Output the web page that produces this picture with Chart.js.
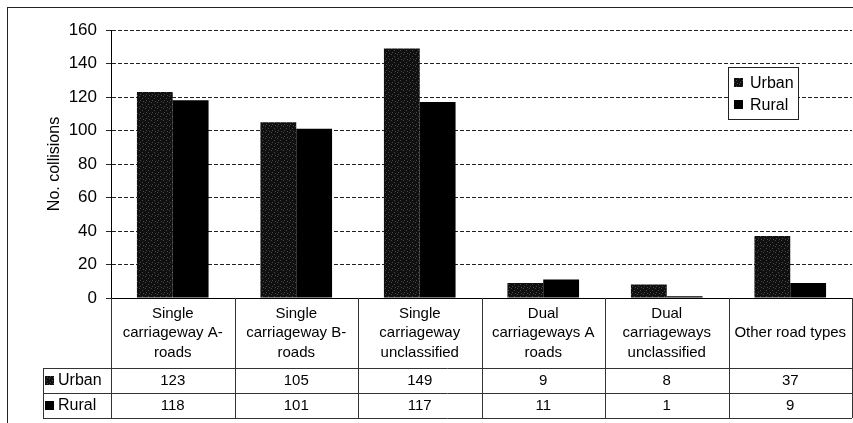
<!DOCTYPE html>
<html>
<head>
<meta charset="utf-8">
<title>Collisions by road type</title>
<script src="https://cdn.jsdelivr.net/npm/chart.js@4/dist/chart.umd.min.js"></script>
<style>
  html, body { margin: 0; padding: 0; background: #fff; }
  canvas { display: block; }
</style>
</head>
<body>
<canvas id="chartColisoes" width="853" height="423"></canvas>
<script>
// dados
const categorias = [
    ['Single', 'carriageway A-', 'roads'],
    ['Single', 'carriageway B-', 'roads'],
    ['Single', 'carriageway', 'unclassified'],
    ['Dual', 'carriageways A', 'roads'],
    ['Dual', 'carriageways', 'unclassified'],
    ['Other road types']
];
const series = ['Urban', 'Rural'];
const urbano = [123, 105, 149, 9, 8, 37];
const rural = [118, 101, 117, 11, 1, 9];
const yMin = 0;
const yMax = 160;
const yPasso = 20;
const tituloY = 'No. collisions';

const fonte = '"Liberation Sans", Arial, sans-serif';

// textura pontilhada da série Urban (scan)
function criarTextura() {
    const c = document.createElement('canvas');
    c.width = 6; c.height = 6;
    const g = c.getContext('2d');
    g.fillStyle = '#101010';
    g.fillRect(0, 0, 6, 6);
    g.fillStyle = '#4a4a4a';
    [[1, 0], [4, 2], [2, 4], [5, 5]].forEach(p => g.fillRect(p[0], p[1], 1, 1));
    return g.createPattern(c, 'repeat');
}
const texturaUrbano = criarTextura();
const coresSeries = [texturaUrbano, '#000000'];

// fundo e moldura externa
const pluginFundo = {
    id: 'fundo',
    beforeDraw(chart) {
        const ctx = chart.ctx;
        ctx.save();
        ctx.fillStyle = '#fff';
        ctx.fillRect(0, 0, chart.width, chart.height);
        ctx.strokeStyle = '#222';
        ctx.lineWidth = 1;
        ctx.strokeRect(7.5, 7.5, chart.width + 10, chart.height + 10);
        ctx.restore();
    }
};

// tabela de dados abaixo do gráfico
const pluginTabela = {
    id: 'tabela',
    afterDraw(chart) {
        const ctx = chart.ctx;
        const x = chart.scales.x;
        const area = chart.chartArea;
        const meia = (x.getPixelForValue(1) - x.getPixelForValue(0)) / 2;
        const topo = area.bottom;
        const fimCab = 368;
        const fimL1 = 393;
        const fimL2 = 418;
        const esq = 43;

        ctx.save();
        ctx.strokeStyle = '#333';
        ctx.lineWidth = 1;
        ctx.beginPath();
        for (let i = 0; i <= categorias.length; i++) {
            const px = Math.round(x.getPixelForValue(i) - meia) + 0.5;
            ctx.moveTo(px, topo);
            ctx.lineTo(px, fimL2);
        }
        [fimCab, fimL1, fimL2].forEach(y => {
            ctx.moveTo(esq, y + 0.5);
            ctx.lineTo(area.right, y + 0.5);
        });
        ctx.moveTo(esq + 0.5, fimCab);
        ctx.lineTo(esq + 0.5, fimL2);
        ctx.stroke();

        ctx.fillStyle = '#000';
        ctx.font = '15px ' + fonte;
        ctx.textAlign = 'center';
        ctx.textBaseline = 'middle';
        const meioCab = (topo + fimCab) / 2;
        const alturaLinha = 19.5;
        categorias.forEach((linhas, i) => {
            const cx = x.getPixelForValue(i);
            const y0 = meioCab - (linhas.length - 1) * alturaLinha / 2;
            linhas.forEach((t, j) => ctx.fillText(t, cx, y0 + j * alturaLinha));
        });

        const linhasDados = [urbano, rural];
        const centros = [(fimCab + fimL1) / 2 + 0.5, (fimL1 + fimL2) / 2 + 0.5];
        linhasDados.forEach((vals, r) => {
            ctx.textAlign = 'center';
            vals.forEach((v, i) => ctx.fillText(String(v), x.getPixelForValue(i), centros[r]));
            ctx.fillStyle = coresSeries[r];
            ctx.fillRect(esq + 2, Math.round(centros[r]) - 5, 9, 9);
            ctx.fillStyle = '#000';
            ctx.font = '16px ' + fonte;
            ctx.textAlign = 'left';
            ctx.fillText(series[r], esq + 15, centros[r]);
            ctx.font = '15px ' + fonte;
        });
        ctx.restore();
    }
};

// legenda dentro da área do gráfico
const pluginLegenda = {
    id: 'legendaCaixa',
    afterDraw(chart) {
        const ctx = chart.ctx;
        const bx = 728, by = 67, bw = 70, bh = 52;
        ctx.save();
        ctx.fillStyle = '#fff';
        ctx.fillRect(bx, by, bw, bh);
        ctx.strokeStyle = '#222';
        ctx.lineWidth = 1;
        ctx.strokeRect(bx + 0.5, by + 0.5, bw, bh);
        ctx.font = '16px ' + fonte;
        ctx.textBaseline = 'middle';
        ctx.textAlign = 'left';
        series.forEach((nome, i) => {
            const cy = by + 16 + i * 22;
            ctx.fillStyle = coresSeries[i];
            ctx.fillRect(bx + 6, cy - 5, 9, 9);
            ctx.fillStyle = '#000';
            ctx.fillText(nome, bx + 22, cy + 0.5);
        });
        ctx.restore();
    }
};

new Chart(document.getElementById('chartColisoes'), {
    type: 'bar',
    data: {
        labels: categorias,
        datasets: [
            { label: series[0], data: urbano, backgroundColor: texturaUrbano, borderWidth: 0 },
            { label: series[1], data: rural, backgroundColor: '#000000', borderWidth: 0 }
        ]
    },
    options: {
        responsive: false,
        animation: false,
        devicePixelRatio: 1,
        layout: { padding: { left: 8, top: 30, right: 1, bottom: 0 } },
        datasets: { bar: { categoryPercentage: 0.58, barPercentage: 1.0 } },
        plugins: {
            legend: { display: false },
            tooltip: { enabled: false }
        },
        scales: {
            x: {
                grid: { display: false },
                ticks: { display: false },
                border: { display: true, color: '#000', width: 1 },
                afterFit: s => { s.height = 125; }
            },
            y: {
                min: yMin,
                max: yMax,
                ticks: {
                    stepSize: yPasso,
                    color: '#000',
                    padding: 9,
                    font: { family: fonte, size: 17 }
                },
                grid: { color: '#222', lineWidth: 1, tickLength: 5, tickBorderDash: [] },
                border: { display: true, color: '#000', width: 1, dash: [4, 2] },
                title: {
                    display: true,
                    text: tituloY,
                    color: '#000',
                    font: { family: fonte, size: 16 },
                    padding: { top: 37, bottom: 0 }
                },
                afterFit: s => { s.width = 103; }
            }
        }
    },
    plugins: [pluginFundo, pluginTabela, pluginLegenda]
});
</script>
</body>
</html>
